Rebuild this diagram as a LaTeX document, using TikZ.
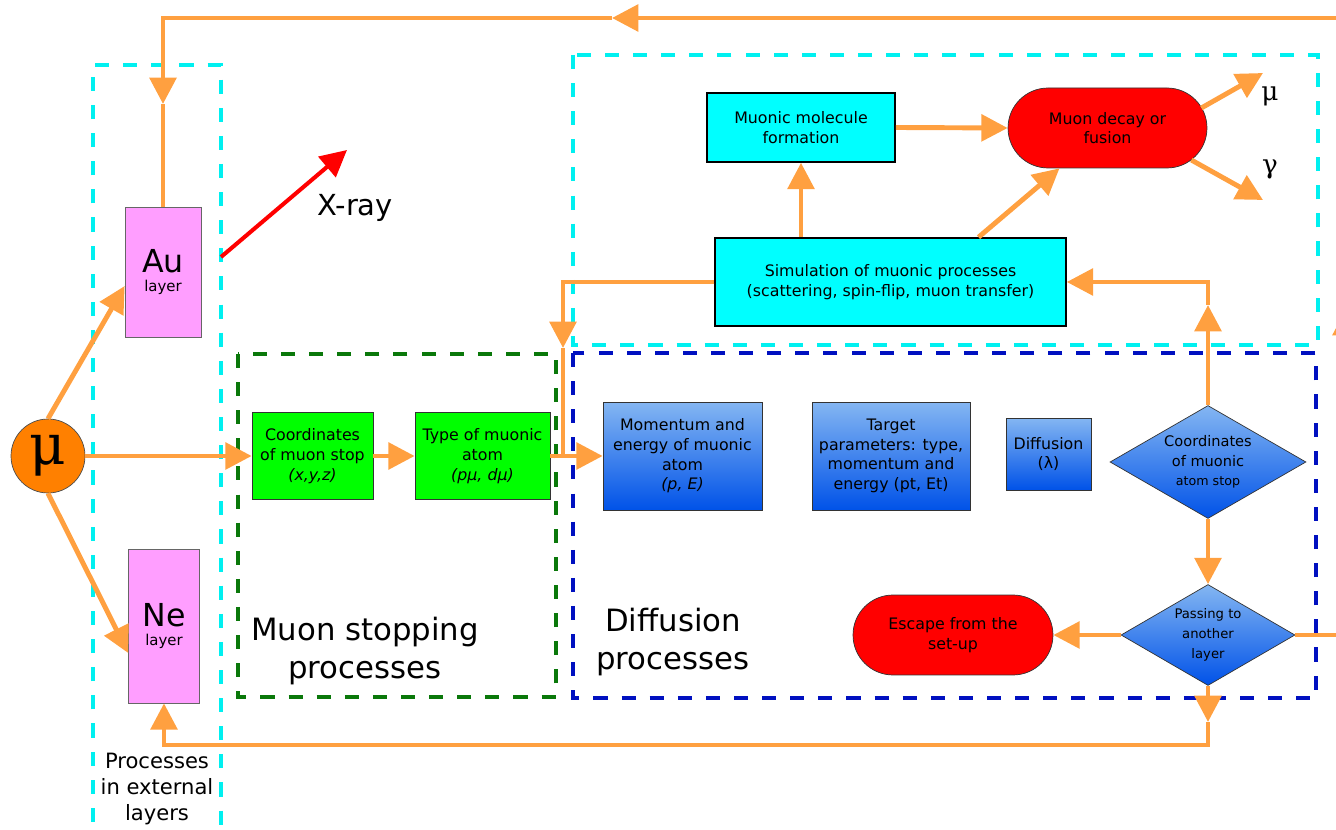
\documentclass[tikz,border=0pt]{standalone}
\usepackage{fontspec}
\setmainfont{DejaVu Sans}
\newfontfamily\greekfont{DejaVu Serif}
\usetikzlibrary{arrows.meta,shapes.geometric,calc}

\definecolor{floworange}{HTML}{FFA040}
\definecolor{zonecyan}{HTML}{00F0F0}
\definecolor{zonegreen}{HTML}{0A780A}
\definecolor{zoneblue}{HTML}{0010C0}
\definecolor{layerpink}{HTML}{FF9EFF}
\definecolor{stopgreen}{HTML}{00FF00}
\definecolor{simcyan}{HTML}{00FFFF}
\definecolor{muorange}{HTML}{FF8000}
\definecolor{difftop}{HTML}{84B6F2}
\definecolor{diffbot}{HTML}{0052E8}

\tikzset{
  flow/.style={floworange, line width=2.8pt},
  zone/.style={line width=2pt, dash pattern=on 8pt off 8pt},
  muball/.style={circle, draw=black!70, fill=muorange, minimum size=1.48cm, inner sep=0pt,
    font=\greekfont\fontsize{32}{32}\selectfont},
  layerbox/.style={draw=black!60, fill=layerpink, align=center, inner sep=1pt},
  stopbox/.style={draw=black!80, fill=stopgreen, align=center, inner sep=1pt,
    minimum height=1.74cm},
  simbox/.style={draw=black, line width=0.9pt, fill=simcyan, align=center, inner sep=1pt},
  endbox/.style={draw=black!80, fill=red, align=center, rounded corners=0.8cm,
    minimum width=4cm, minimum height=1.6cm, inner sep=1pt},
  diffbox/.style={draw=black!80, top color=difftop, bottom color=diffbot, align=center,
    inner sep=1pt},
  choice/.style={diamond, draw=black!80, top color=difftop, bottom color=diffbot,
    align=center, inner sep=0pt, aspect=1.73},
  biglabel/.style={align=center, font=\fontsize{17.5}{21.5}\selectfont},
  greeklabel/.style={font=\greekfont\fontsize{15}{15}\selectfont}
}

\begin{document}
\begin{tikzpicture}[x=0.02cm, y=-0.02cm, >={Triangle[length=15pt,width=15pt]},
    font=\fontsize{9}{11.2}\selectfont]
  \useasboundingbox (0,0) rectangle (1336,830);
  \clip (0,0) rectangle (1336,830);

  % dashed zones
  \draw[zone, zonecyan] (93,850) -- (93,65) -- (221,65) -- (221,850);
  \draw[zone, zonecyan] (573,55) rectangle (1318,345);
  \draw[zone, zonegreen] (238,354) rectangle (556,697);
  \draw[zone, zoneblue] (573,353) rectangle (1316,698);

  % external layers
  \node[muball] (mu) at (48,456) {μ};
  \node[layerbox, minimum width=1.52cm, minimum height=2.6cm] (au) at (163,272)
    {{\fontsize{18}{20}\selectfont Au}\\{\fontsize{8.5}{10}\selectfont layer}};
  \node[layerbox, minimum width=1.42cm, minimum height=3.08cm] (ne) at (164,626)
    {{\fontsize{18}{20}\selectfont Ne}\\{\fontsize{8.5}{10}\selectfont layer}};
  \node[align=center, font=\fontsize{12}{14.7}\selectfont] (extlab) at (157,789)
    {Processes\\in external\\layers};
  \node[font=\fontsize{16.5}{18}\selectfont] (xray) at (355,208) {X-ray};

  % muon stopping
  \node[stopbox, minimum width=2.42cm] (coord) at (312.5,456)
    {Coordinates\\of muon stop\\\textit{(x,y,z)}};
  \node[stopbox, minimum width=2.7cm] (type) at (482.5,456)
    {Type of muonic\\atom\\\textit{(pμ, dμ)}};
  \node[biglabel] (stoplab) at (365,651) {Muon stopping\\processes};

  % muonic processes
  \node[simbox, minimum width=3.76cm, minimum height=1.38cm] (mol) at (801,127.5)
    {Muonic molecule\\formation};
  \node[endbox, minimum width=3.98cm] (decay) at (1107.5,128) {Muon decay or\\fusion};
  \node[simbox, minimum width=7.02cm, minimum height=1.76cm] (sim) at (890.5,282)
    {Simulation of muonic processes\\(scattering, spin-flip, muon transfer)};
  \node[greeklabel] (mulab) at (1270,96) {μ};
  \node[greeklabel] (gamlab) at (1270,169) {γ};

  % diffusion
  \node[diffbox, minimum width=3.18cm, minimum height=2.16cm] (mom) at (682.5,456)
    {Momentum and\\energy of muonic\\atom\\\textit{(p, E)}};
  \node[diffbox, minimum width=3.16cm, minimum height=2.16cm] (targ) at (891,456)
    {Target\\parameters: type,\\momentum and\\energy (pt, Et)};
  \node[diffbox, minimum width=1.7cm, minimum height=1.44cm] (diff) at (1048.5,454)
    {Diffusion\\(λ)};
  \node[choice, minimum width=3.92cm, minimum height=2.26cm] (stop) at (1208,462)
    {\fontsize{8.3}{9.6}\selectfont Coordinates\\\fontsize{8.3}{9.6}\selectfont of muonic\\\fontsize{7.2}{8}\selectfont atom stop};
  \node[choice, minimum width=3.48cm, minimum height=2.02cm] (pass) at (1208,635)
    {\fontsize{7.5}{8.6}\selectfont Passing to\\\fontsize{7.5}{8.6}\selectfont another\\\fontsize{7.5}{8.6}\selectfont layer};
  \node[endbox] (esc) at (953,635) {Escape from the\\set-up};
  \node[biglabel] (difflab) at (673,642) {Diffusion\\processes};

  % free ends of the connectors
  \coordinate (xs) at (221,257);
  \coordinate (xe) at (347,150);
  \coordinate (mutip) at (1263,73);
  \coordinate (gamtip) at (1263,200);
  \coordinate (jdown) at (563,348);
  \coordinate (jmeet) at (563,456);
  \coordinate (upmid) at (1208,305);
  \coordinate (downmid) at (1208,722);
  \coordinate (bottomr) at (1208,745);
  \coordinate (rightb) at (1346,635);
  \coordinate (rightmid) at (1346,309);
  \coordinate (rightt) at (1346,18);
  \coordinate (topmid) at (612,18);
  \coordinate (topl) at (163,18);
  \coordinate (leftmid) at (163,104);

  % connectors
  \draw[flow, ->] (mu.north) -- ($(au.west)+(0,14)$);
  \draw[flow, ->] (mu.south) -- ($(ne.west)+(0,27)$);
  \draw[flow, ->] (mu.east) -- (coord.west);
  \draw[flow, ->] (coord.east) -- (type.west);
  \draw[flow, ->] (type.east) -- (mom.west);
  \draw[flow, ->] (sim.west) -| (jdown);
  \draw[flow] (jdown) -- (jmeet);
  \draw[flow, ->] (mol.south |- sim.north) -- (mol.south);
  \draw[flow, ->] ($(sim.north)+(88,0)$) -- ($(decay.south)+(-48,0)$);
  \draw[flow, ->] (mol.east) -- (decay.west);
  \draw[flow, ->] ($(decay.east)+(-6,-20)$) -- (mutip);
  \draw[flow, ->] ($(decay.east)+(-16,32)$) -- (gamtip);
  \draw[flow, ->] (stop.north) -- (upmid);
  \draw[flow, ->] (upmid) |- (sim.east);
  \draw[flow, ->] (stop.south) -- (pass.north);
  \draw[flow, ->] (pass.west) -- (esc.east);
  \draw[flow, ->] (pass.south) -- (downmid);
  \draw[flow, ->] (downmid) -- (bottomr) -| (ne.south);
  \draw[flow, ->] (pass.east) -- (rightb) -- (rightmid);
  \draw[flow, ->] (rightmid) -- (rightt) -- (topmid);
  \draw[flow, ->] (topmid) -- (topl) -- (leftmid);
  \draw[flow] (leftmid) -- (au.north);
  \draw[red, line width=2.3pt, ->] (xs) -- (xe);
\end{tikzpicture}
\end{document}
